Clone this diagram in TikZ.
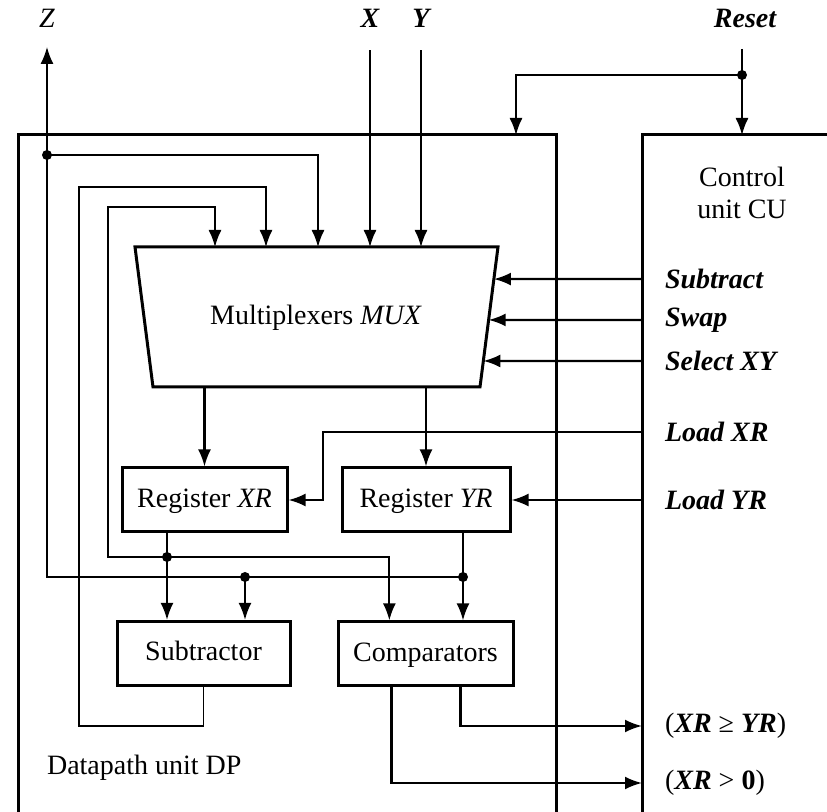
\documentclass[tikz,border=0pt]{standalone}
\usepackage{fontspec}
\setmainfont{Liberation Serif}
\usetikzlibrary{arrows.meta,positioning,calc}
\tikzset{
  unitline/.style={line width=1.5pt},
  regbox/.style={draw,line width=1.5pt,minimum height=32pt,inner sep=2pt,
                 text height=11pt,text depth=3.5pt,
                 font=\fontsize{14}{16}\selectfont},
  sig/.style={line width=0.85pt},
  sigarr/.style={sig,-{Latex[length=8.5pt,width=6.5pt]}},
  busarr/.style={line width=1.1pt,-{Latex[length=8.5pt,width=6.5pt]}},
  joint/.style={circle,fill,inner sep=0pt,minimum size=5pt},
  ctllabel/.style={anchor=west,font=\fontsize{14}{16}\selectfont\bfseries\itshape},
  toplabel/.style={font=\fontsize{14}{16}\selectfont\bfseries\itshape},
  plainlabel/.style={font=\fontsize{14}{16}\selectfont}
}
\begin{document}
\begin{tikzpicture}[x=0.5pt,y=-0.5pt]
\useasboundingbox (0,0) rectangle (827,812);
% unit outlines
\draw[unitline] (18,812) |- (556,135) -- (556,812);
\draw[unitline] (642,812) |- (827,135);
\coordinate (cuw) at (642,135);
\coordinate (dpin) at (516,135);
\node[plainlabel,align=center] (cu) at (742,193) {Control\\unit CU};
\node[plainlabel,anchor=west] (dp) at (40,768) {Datapath unit DP};

% multiplexer
\coordinate (mtl) at (135,247);
\coordinate (mtr) at (498,247);
\coordinate (mbr) at (480,387);
\coordinate (mbl) at (153,387);
\draw[unitline] (mtl) -- (mtr) -- (mbr) -- (mbl) -- cycle;
\node[plainlabel] (mux) at (316,318) {Multiplexers \textit{MUX}};

% registers and function blocks
\node[regbox,minimum width=82.5pt] (xr) at (204.5,500) {Register \textit{XR}};
\node[regbox,minimum width=84pt] (yr) at (426,500) {Register \textit{YR}};
\node[regbox,minimum width=86.5pt] (sub) at (203.5,653.5) {Subtractor};
\node[regbox,minimum width=87.5pt] (cmp) at (425.5,654) {Comparators};

% external inputs/outputs
\node[plainlabel,font=\fontsize{14}{16}\selectfont\itshape] (zout) at (47,18) {Z};
\node[toplabel] (xin) at (370,18) {X};
\node[toplabel] (yin) at (421,18) {Y};
\node[toplabel] (reset) at (745,18) {Reset};
\coordinate (ztip) at (47,47);
\coordinate (rtop) at (742,49);
\coordinate (rdot) at (742,75);
\draw[sig] (rtop) -- (rdot);
\draw[sigarr] (rdot) -- (rdot |- cuw);
\draw[sigarr] (rdot) -| (dpin);
\draw[sigarr] ([yshift=-8pt]xin.south) -- (xin |- mtl);
\draw[sigarr] ([yshift=-8pt]yin.south) -- (yin |- mtl);

% control signals
\node[ctllabel] (lsub) at (658,279) {Subtract};
\node[ctllabel] (lswp) at (658,320) {Swap};
\node[ctllabel] (lsel) at (658,361) {Select XY};
\node[ctllabel] (lxr) at (658,432) {Load XR};
\node[ctllabel] (lyr) at (658,500) {Load YR};
\node[ctllabel,font=\fontsize{14}{16}\selectfont] (lge) at (658,726)
  {(\textbf{\textit{XR}} ≥ \textbf{\textit{YR}})};
\node[ctllabel,font=\fontsize{14}{16}\selectfont] (lgt) at (658,783)
  {(\textbf{\textit{XR}} > \textbf{0})};
\draw[busarr] (lsub.west -| cuw) -- ($(mtr)!0.229!(mbr)$);
\draw[busarr] (lswp.west -| cuw) -- ($(mtr)!0.521!(mbr)$);
\draw[busarr] (lsel.west -| cuw) -- ($(mtr)!0.814!(mbr)$);
\coordinate (lxrbend) at (323,500);
\draw[busarr] (lxr.west -| cuw) -| (lxrbend) -- (xr.east);
\draw[busarr] (lyr.west -| cuw) -- (yr.east);

% datapath wiring
\draw[busarr] (xr.north |- mbl) -- (xr.north);
\draw[busarr] (yr.north |- mbl) -- (yr.north);
\coordinate (xrdot) at (167,557);
\coordinate (yrdot) at (463,577);
\coordinate (sbdot) at (245,577);
\coordinate (zdot) at (47,155);
\coordinate (la) at (108,207);
\coordinate (ma) at (215,247);
\coordinate (lctop) at (266,187);
\coordinate (lcbot) at (79,726);
\coordinate (mc) at (318,247);
\coordinate (cin) at ($(cmp.north west)!0.297!(cmp.north east)$);
\coordinate (cge) at ($(cmp.south west)!0.697!(cmp.south east)$);
\coordinate (cgt) at ($(cmp.south west)!0.309!(cmp.south east)$);
\draw[sig] (xr.south -| xrdot) -- (xrdot);
\draw[busarr] (xrdot) -- (xrdot |- sub.north);
\draw[sigarr] (xrdot) -| (la) -| (ma);
\draw[busarr] (xrdot) -| (cin);
\draw[sig] (yr.south -| yrdot) -- (yrdot);
\draw[busarr] (yrdot) -- (yrdot |- cmp.north);
\draw[sigarr] (yrdot) -| (ztip);
\draw[busarr] (sbdot) -- (sbdot |- sub.north);
\draw[sigarr] (zdot) -| (mc);
\draw[sigarr] (sub.south) |- (lcbot) |- (lctop) -- (lctop |- mtl);
\draw[busarr] (cge) |- (lge.west -| cuw);
\draw[busarr] (cgt) |- (lgt.west -| cuw);

\foreach \j in {rdot,zdot,xrdot,yrdot,sbdot}
  \node[joint] at (\j) {};
\end{tikzpicture}
\end{document}
